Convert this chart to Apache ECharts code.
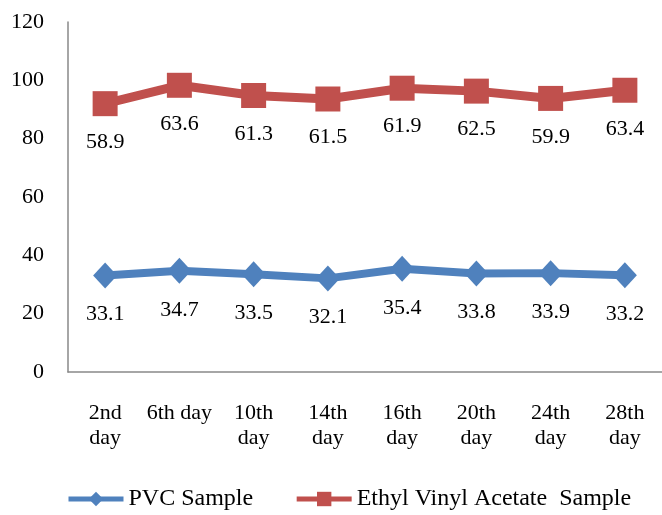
<!DOCTYPE html>
<html>
<head>
<meta charset="utf-8">
<script src="https://cdn.jsdelivr.net/npm/echarts@6/dist/echarts.min.js"></script>
<style>
  html, body { margin:0; padding:0; background:#fff; }
  #main { width:662px; height:515px; }
</style>
</head>
<body>
<div id="main"></div>
<script>
var days = ['2nd\nday', '6th day', '10th\nday', '14th\nday', '16th\nday', '20th\nday', '24th\nday', '28th\nday'];
var pvcValues = [33.1, 34.7, 33.5, 32.1, 35.4, 33.8, 33.9, 33.2];
var evaValues = [58.9, 63.6, 61.3, 61.5, 61.9, 62.5, 59.9, 63.4];
var yTicks = [0, 120, 20];

var font = '"Liberation Serif", "Times New Roman", serif';
var myChart = echarts.init(document.getElementById('main'));

var option = {
    animation: false,
    textStyle: { fontFamily: font },
    grid: {
        left: 68,
        right: -13,
        top: 22,
        bottom: 143
    },
    legend: {
        top: 482,
        left: 61,
        itemWidth: 55,
        itemHeight: 18,
        itemGap: 41,
        lineStyle: { width: 5 },
        textStyle: { fontFamily: font, fontSize: 24, color: '#000' },
        data: ['PVC Sample', 'Ethyl Vinyl Acetate  Sample']
    },
    xAxis: {
        type: 'category',
        data: days,
        axisLine: { lineStyle: { color: '#898989', width: 1.5 } },
        axisTick: { show: false },
        axisLabel: {
            color: '#000',
            fontSize: 22,
            fontFamily: font,
            lineHeight: 25,
            margin: 29,
            interval: 0
        }
    },
    yAxis: {
        type: 'value',
        min: yTicks[0],
        max: yTicks[1],
        interval: yTicks[2],
        axisLine: { show: true, lineStyle: { color: '#898989', width: 1.5 } },
        axisTick: { show: false },
        splitLine: { show: false },
        axisLabel: { color: '#000', fontSize: 22, fontFamily: font, margin: 24 }
    },
    series: [
        {
            name: 'PVC Sample',
            type: 'line',
            stack: 'total',
            data: pvcValues,
            symbol: 'diamond',
            symbolSize: [24, 26],
            color: '#4F81BD',
            lineStyle: { width: 8, color: '#4F81BD' },
            itemStyle: { color: '#4F81BD' },
            label: {
                show: true,
                position: 'bottom',
                distance: 15,
                color: '#000',
                fontSize: 22,
                fontFamily: font
            }
        },
        {
            name: 'Ethyl Vinyl Acetate  Sample',
            type: 'line',
            stack: 'total',
            data: evaValues,
            symbol: 'rect',
            symbolSize: 25,
            color: '#C0504D',
            lineStyle: { width: 9, color: '#C0504D' },
            itemStyle: { color: '#C0504D' },
            label: {
                show: true,
                position: 'bottom',
                distance: 15,
                color: '#000',
                fontSize: 22,
                fontFamily: font
            }
        }
    ]
};
myChart.setOption(option);
</script>
</body>
</html>
